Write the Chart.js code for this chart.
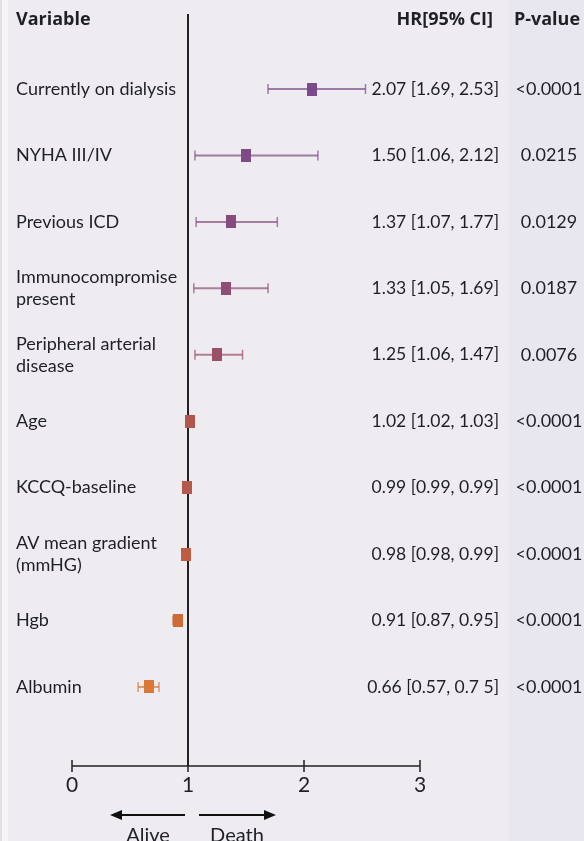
<!DOCTYPE html>
<html>
<head>
<meta charset="utf-8">
<script src="https://cdn.jsdelivr.net/npm/chart.js@4.4.1/dist/chart.umd.min.js"></script>
<style>
html, body { margin: 0; padding: 0; background: #eeecf0; }
#wrap {
    position: relative; width: 584px; height: 841px;
    background: linear-gradient(to right, #e2e0e5 0, #e2e0e5 2px, #f6f5f7 2px, #f6f5f7 8px, #eeecf0 8px, #eeecf0 509px, #e8e6ef 509px);
}
</style>
</head>
<body>
<div id="wrap"><canvas id="forest" width="584" height="841"></canvas></div>
<script>
// Forest plot - Cox model hazard ratios

const variables = [
    ['Currently on dialysis'], ['NYHA III/IV'], ['Previous ICD'],
    ['Immunocompromise', 'present'], ['Peripheral arterial', 'disease'],
    ['Age'], ['KCCQ-baseline'], ['AV mean gradient', '(mmHG)'], ['Hgb'], ['Albumin'],
];
const hr = [2.07, 1.50, 1.37, 1.33, 1.25, 1.02, 0.99, 0.98, 0.91, 0.66];
const lower = [1.69, 1.06, 1.07, 1.05, 1.06, 1.02, 0.99, 0.98, 0.87, 0.57];
const upper = [2.53, 2.12, 1.77, 1.69, 1.47, 1.03, 0.99, 0.99, 0.95, 0.75];
const hrText = [
    '2.07 [1.69, 2.53]', '1.50 [1.06, 2.12]', '1.37 [1.07, 1.77]', '1.33 [1.05, 1.69]',
    '1.25 [1.06, 1.47]', '1.02 [1.02, 1.03]', '0.99 [0.99, 0.99]', '0.98 [0.98, 0.99]',
    '0.91 [0.87, 0.95]', '0.66 [0.57, 0.7 5]',
];
const pValues = ['<0.0001', '0.0215', '0.0129', '0.0187', '0.0076', '<0.0001', '<0.0001', '<0.0001', '<0.0001', '<0.0001'];
const xTicks = [0, 1, 2, 3];

const rowColors = [
    '#7a4a8c', '#7f4b86', '#874c7e', '#8f4e74', '#9a5066',
    '#b0564f', '#b4594b', '#be5d41', '#cd6a36', '#d97838',
];

const FONT = 'Lato, "Open Sans", sans-serif';
const HEAD_FONT = '"Open Sans", Lato, sans-serif';
const TXT = '#1f1f24';

function alpha(hex, a) {
    const n = parseInt(hex.slice(1), 16);
    return `rgba(${n >> 16},${(n >> 8) & 255},${n & 255},${a})`;
}

function makeMarker(color) {
    const c = document.createElement('canvas');
    c.width = 10; c.height = 13;
    const g = c.getContext('2d');
    g.fillStyle = color;
    g.fillRect(0, 0, 10, 13);
    return c;
}

const forestPlugin = {
    id: 'forest',
    beforeDatasetsDraw(chart) {
        const { ctx, chartArea } = chart;
        const xs = chart.scales.x, ys = chart.scales.y;
        ctx.save();
        // reference line at HR = 1
        ctx.strokeStyle = '#222';
        ctx.lineWidth = 2;
        ctx.beginPath();
        ctx.moveTo(xs.getPixelForValue(1), chartArea.top);
        ctx.lineTo(xs.getPixelForValue(1), chartArea.bottom);
        ctx.stroke();

        // confidence intervals
        hr.forEach((v, i) => {
            const y = ys.getPixelForValue(i);
            const x0 = xs.getPixelForValue(lower[i]);
            const x1 = xs.getPixelForValue(upper[i]);
            ctx.strokeStyle = alpha(rowColors[i], 0.7);
            ctx.lineWidth = 2;
            ctx.beginPath();
            ctx.moveTo(x0, y); ctx.lineTo(x1, y);
            ctx.stroke();
            ctx.lineWidth = 1.5;
            ctx.beginPath();
            ctx.moveTo(x0, y - 5); ctx.lineTo(x0, y + 5);
            ctx.moveTo(x1, y - 5); ctx.lineTo(x1, y + 5);
            ctx.stroke();
        });

        // x axis line with ticks
        const yb = chartArea.bottom;
        ctx.strokeStyle = '#222';
        ctx.lineWidth = 1.5;
        ctx.beginPath();
        ctx.moveTo(xs.getPixelForValue(xTicks[0]), yb);
        ctx.lineTo(xs.getPixelForValue(xTicks[xTicks.length - 1]), yb);
        xTicks.forEach(t => {
            const x = xs.getPixelForValue(t);
            ctx.moveTo(x, yb - 6); ctx.lineTo(x, yb + 6);
        });
        ctx.stroke();
        ctx.restore();
    },
    afterDraw(chart) {
        const { ctx } = chart;
        const xs = chart.scales.x, ys = chart.scales.y;
        ctx.save();
        ctx.fillStyle = TXT;
        ctx.textBaseline = 'middle';

        // headers
        ctx.font = `bold 18px ${HEAD_FONT}`;
        ctx.textAlign = 'left';
        ctx.fillText('Variable', 16, 20);
        ctx.textAlign = 'right';
        ctx.fillText('HR[95% CI]', 493, 20);
        ctx.textAlign = 'center';
        ctx.fillText('P-value', 547, 20);

        // rows
        variables.forEach((lines, i) => {
            const y = ys.getPixelForValue(i);
            ctx.font = `18px ${FONT}`;
            ctx.textAlign = 'left';
            lines.forEach((ln, k) => {
                ctx.fillText(ln, 16, y + (k - (lines.length - 1) / 2) * 22);
            });
            ctx.font = `17.5px ${FONT}`;
            ctx.textAlign = 'right';
            ctx.fillText(hrText[i], 499, y);
            ctx.font = `18px ${FONT}`;
            ctx.textAlign = 'center';
            ctx.fillText(pValues[i], 549, y);
        });

        // direction arrows
        const xc = xs.getPixelForValue(1);
        const ya = 815;
        ctx.strokeStyle = '#111';
        ctx.fillStyle = '#111';
        ctx.lineWidth = 2;
        ctx.beginPath();
        ctx.moveTo(xc - 3, ya); ctx.lineTo(xc - 68, ya);
        ctx.moveTo(xc + 11, ya); ctx.lineTo(xc + 78, ya);
        ctx.stroke();
        ctx.beginPath();
        ctx.moveTo(xc - 78, ya); ctx.lineTo(xc - 66, ya - 5); ctx.lineTo(xc - 66, ya + 5); ctx.closePath();
        ctx.moveTo(xc + 88, ya); ctx.lineTo(xc + 76, ya - 5); ctx.lineTo(xc + 76, ya + 5); ctx.closePath();
        ctx.fill();
        ctx.fillStyle = TXT;
        ctx.font = `20px ${FONT}`;
        ctx.textAlign = 'center';
        ctx.fillText('Alive', xc - 40, 836);
        ctx.fillText('Death', xc + 49, 836);
        ctx.restore();
    },
};

new Chart(document.getElementById('forest'), {
    type: 'scatter',
    data: {
        datasets: [{
            label: 'HR',
            data: hr.map((v, i) => ({ x: v, y: i })),
            pointStyle: rowColors.map(makeMarker),
            pointRadius: 6,
        }],
    },
    options: {
        responsive: false,
        animation: false,
        devicePixelRatio: 1,
        layout: { padding: { left: 72, right: 164, top: 14, bottom: 35 } },
        plugins: { legend: { display: false }, tooltip: { enabled: false } },
        scales: {
            x: {
                type: 'linear', min: 0, max: 3,
                afterBuildTicks: s => { s.ticks = xTicks.map(v => ({ value: v })); },
                afterFit: s => { s.height = 40; },
                grid: { display: false, drawTicks: false },
                border: { display: false },
                ticks: { color: TXT, font: { family: FONT, size: 21 }, padding: 7 },
            },
            y: {
                type: 'linear', min: -1.13, max: 10.19, reverse: true,
                display: false,
            },
        },
    },
    plugins: [forestPlugin],
});
</script>
</body>
</html>
